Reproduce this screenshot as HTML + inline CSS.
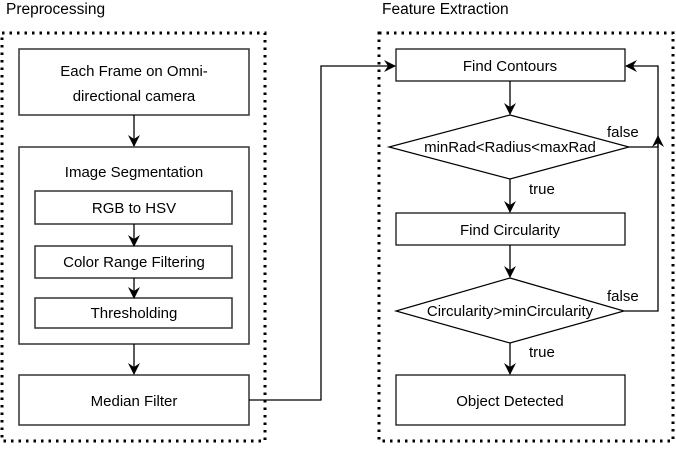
<!DOCTYPE html>
<html><head><style>body{margin:0;background:#fff} svg text{font-family:"Liberation Sans", Arial, sans-serif;}</style></head><body>
<svg width="676" height="444" xmlns="http://www.w3.org/2000/svg" font-size="15">
<defs><marker id="a" markerWidth="14" markerHeight="14" refX="11" refY="6" orient="auto" markerUnits="userSpaceOnUse"><path d="M0,0 L12,6 L0,12 L4,6 z" fill="#000"/></marker></defs>
<g fill="none" stroke="#000" stroke-width="3" stroke-dasharray="2.5,5">
<rect x="2" y="33" width="263" height="408"/>
<rect x="379" y="33" width="294" height="408"/>
</g>
<text x="6" y="14" font-size="15.5">Preprocessing</text>
<text x="382" y="14" font-size="15.5">Feature Extraction</text>
<g fill="#fff" stroke="#333" stroke-width="1.5">
<rect x="19" y="49" width="230" height="66"/>
<rect x="19" y="147" width="230" height="197"/>
<rect x="35" y="191" width="197" height="33"/>
<rect x="35" y="246" width="197" height="32"/>
<rect x="35" y="298" width="197" height="30"/>
<rect x="19" y="375" width="230" height="50"/>
</g>
<g fill="#fff" stroke="#000" stroke-width="1.2">
<rect x="396" y="49" width="229" height="32"/>
<polygon points="510,115 629,147 510,179 389,147"/>
<rect x="396" y="213" width="229" height="32"/>
<polygon points="510,278 624,311 510,343 396,311"/>
<rect x="396" y="375" width="229" height="50"/>
</g>
<g stroke="#000" stroke-width="1.3" fill="none" marker-end="url(#a)">
<path d="M134 115 V146"/>
<path d="M134 224 V246"/>
<path d="M134 278 V298"/>
<path d="M134 344 V374"/>
<path d="M249 400 H321 V66 H395"/>
<path d="M510 81 V114"/>
<path d="M510 179 V212"/>
<path d="M510 245 V277"/>
<path d="M510 343 V374"/>
<path d="M624 311 H658 V66 H626"/>
<path d="M629 147 H658 V136" />
</g>
<g text-anchor="middle" fill="#000">
<text x="134" y="76">Each Frame on Omni-</text>
<text x="134" y="101">directional camera</text>
<text x="134" y="177">Image Segmentation</text>
<text x="134" y="213">RGB to HSV</text>
<text x="134" y="267">Color Range Filtering</text>
<text x="134" y="318">Thresholding</text>
<text x="134" y="406">Median Filter</text>
<text x="510" y="71">Find Contours</text>
<text x="510" y="152">minRad&lt;Radius&lt;maxRad</text>
<text x="510" y="235">Find Circularity</text>
<text x="510" y="316">Circularity&gt;minCircularity</text>
<text x="510" y="406">Object Detected</text>
</g>
<text x="607" y="137">false</text>
<text x="607" y="301">false</text>
<text x="529" y="194">true</text>
<text x="529" y="357">true</text>
</svg>
</body></html>
